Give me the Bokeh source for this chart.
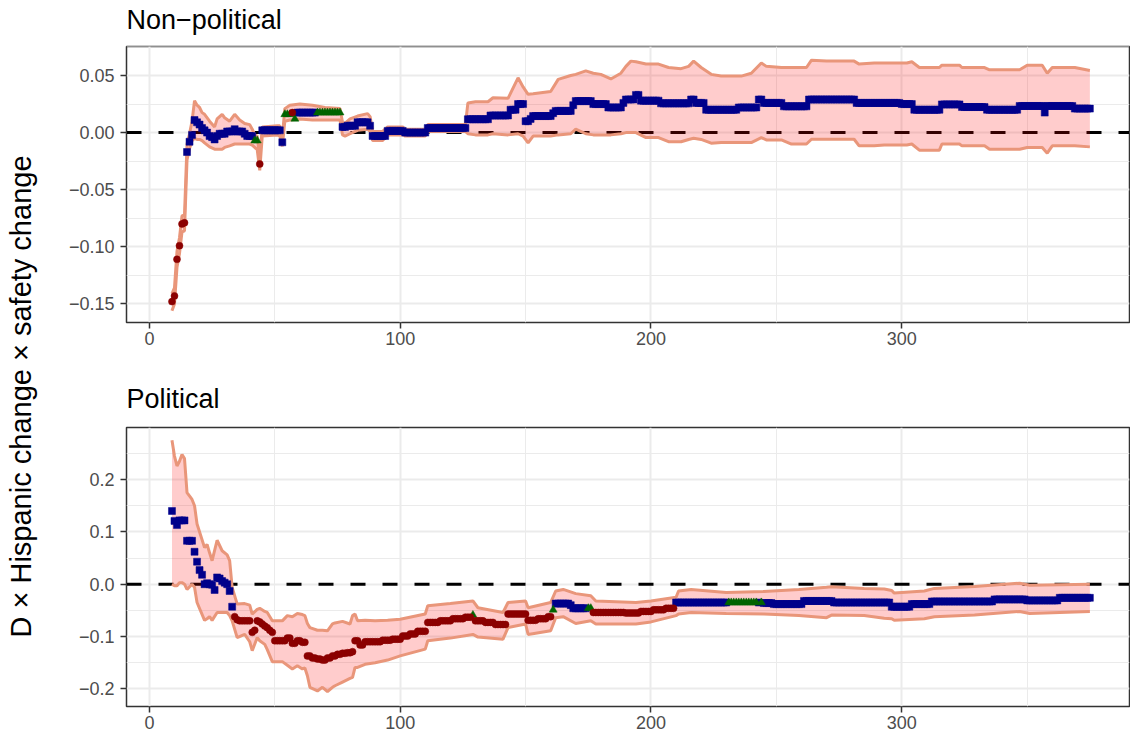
import math
from bokeh.plotting import figure
from bokeh.layouts import row, column
from bokeh.models import Range1d, FixedTicker, Span, CustomJSTickFormatter, Label
from bokeh.embed import file_html
from bokeh.resources import INLINE

FONT = "Liberation Sans"

# ---------------- Non-political panel ----------------
np_title = "Non\u2212political"
# runs of equal estimates: first x, last x, estimate, marker class
np_start = [9, 10, 11, 12, 13, 14, 15, 16, 17, 18, 19, 20, 21, 22, 23, 24, 25, 26, 27, 28,
            31, 34, 35, 38, 39, 42, 44, 45, 53, 54, 57, 58, 59, 67, 77, 79, 83, 88, 89, 95,
            102, 111, 127, 136, 144, 147, 150, 152, 153, 161, 162, 169, 170, 177, 183, 189, 190, 194, 196, 204,
            216, 218, 222, 235, 243, 245, 253, 263, 282, 300, 305, 316, 324, 334, 347, 357, 358, 369]
np_end = [9, 10, 11, 12, 13, 14, 15, 16, 17, 18, 19, 20, 21, 22, 23, 24, 25, 26, 27, 30,
          33, 34, 37, 38, 41, 43, 44, 52, 53, 56, 57, 58, 66, 76, 78, 82, 87, 88, 94, 101,
          110, 126, 135, 143, 146, 149, 151, 152, 160, 161, 168, 169, 176, 182, 188, 189, 193, 195, 203, 215,
          217, 221, 234, 242, 244, 252, 262, 281, 299, 304, 315, 323, 333, 346, 356, 357, 368, 375]
np_est = [-0.148, -0.143, -0.111, -0.099, -0.080, -0.079, -0.017, -0.008, -0.002, 0.011,
          0.009, 0.007, 0.004, 0.002, 0.000, -0.003, -0.004, -0.006, -0.003, -0.001,
          0.001, 0.003, 0.001, -0.001, -0.003, -0.007, -0.0275, 0.002, -0.0085, 0.016,
          0.0175, 0.012, 0.0175, 0.0175, 0.005, 0.006, 0.009, 0.006, -0.003, 0.0015,
          0.000, 0.004, 0.0117, 0.015, 0.020, 0.025, 0.010, 0.012, 0.0145, 0.017,
          0.019, 0.024, 0.0276, 0.025, 0.022, 0.026, 0.029, 0.033, 0.028, 0.0256,
          0.029, 0.026, 0.020, 0.022, 0.029, 0.026, 0.023, 0.029, 0.026, 0.025,
          0.020, 0.0247, 0.0224, 0.020, 0.0233, 0.0175, 0.0233, 0.021]
np_sig = ["r", "r", "r", "r", "r", "r", "b", "b", "b", "b", "b", "b", "b", "b", "b", "b", "b", "b", "b", "b",
          "b", "b", "b", "b", "b", "g", "r", "b", "b", "g", "r", "g", "b", "g", "b", "b", "b", "b", "b", "b",
          "b", "b", "b", "b", "b", "b", "b", "b", "b", "b", "b", "b", "b", "b", "b", "b", "b", "b", "b", "b",
          "b", "b", "b", "b", "b", "b", "b", "b", "b", "b", "b", "b", "b", "b", "b", "b", "b", "b"]
np_ci_x = [9, 10, 11, 12, 13, 14, 15, 16, 17, 18, 19, 20, 21, 22, 24, 26, 27, 29, 30, 32,
           34, 36, 38, 40, 41, 42, 43, 44, 45, 51, 52, 53, 54, 56, 60, 65, 70, 76, 77, 78,
           80, 83, 87, 88, 89, 93, 95, 101, 102, 110, 111, 126, 127, 130, 135, 137, 143, 147, 149, 151,
           153, 160, 163, 168, 170, 174, 177, 180, 184, 188, 190, 192, 194, 198, 203, 207, 212, 215, 217, 220,
           224, 228, 236, 240, 244, 246, 252, 256, 262, 264, 270, 281, 283, 289, 293, 302, 304, 307, 315, 316,
           323, 324, 333, 335, 347, 350, 356, 358, 360, 369, 375]
np_ci_lo = [-0.156, -0.150, -0.118, -0.106, -0.087, -0.086, -0.024, -0.014, -0.007, -0.005,
            -0.006, -0.006, -0.007, -0.009, -0.0125, -0.0145, -0.0145, -0.0145, -0.013, -0.0116,
            -0.010, -0.010, -0.010, -0.010, -0.011, -0.013, -0.015, -0.033, -0.003, -0.002,
            -0.003, -0.012, 0.010, 0.011, 0.012, 0.011, 0.011, 0.011, -0.002, -0.003,
            -0.001, 0.002, 0.003, 0.001, -0.007, -0.007, -0.002, -0.002, -0.003, -0.003,
            0.001, 0.001, -0.001, -0.002, -0.002, -0.001, -0.002, -0.001, -0.003, -0.009,
            -0.003, -0.003, -0.002, -0.001, 0.003, -0.001, -0.002, -0.002, -0.002, -0.001,
            0.000, 0.000, 0.000, -0.0044, -0.0044, -0.008, -0.008, -0.006, -0.005, -0.006,
            -0.0093, -0.0087, -0.0087, -0.0087, -0.0044, -0.0064, -0.0064, -0.010, -0.010, -0.0058,
            -0.0058, -0.0058, -0.0116, -0.0116, -0.0108, -0.0108, -0.010, -0.0154, -0.0154, -0.010,
            -0.010, -0.0116, -0.0116, -0.0146, -0.0146, -0.013, -0.013, -0.018, -0.0116, -0.0116,
            -0.0125]
np_ci_hi = [-0.141, -0.136, -0.104, -0.092, -0.073, -0.072, -0.010, -0.001, 0.010, 0.028,
            0.024, 0.022, 0.0175, 0.016, 0.010, 0.005, 0.012, 0.016, 0.013, 0.010,
            0.016, 0.011, 0.008, 0.007, 0.003, -0.002, -0.003, -0.023, 0.005, 0.006,
            0.006, -0.004, 0.021, 0.024, 0.025, 0.024, 0.022, 0.021, 0.009, 0.008,
            0.012, 0.0145, 0.0166, 0.014, 0.001, 0.001, 0.005, 0.005, 0.003, 0.003,
            0.007, 0.007, 0.026, 0.027, 0.027, 0.0305, 0.030, 0.048, 0.040, 0.0335,
            0.034, 0.036, 0.0466, 0.050, 0.051, 0.054, 0.052, 0.051, 0.047, 0.052,
            0.058, 0.0626, 0.062, 0.060, 0.060, 0.057, 0.056, 0.058, 0.0626, 0.057,
            0.051, 0.0495, 0.0495, 0.052, 0.061, 0.058, 0.057, 0.057, 0.057, 0.0634,
            0.0626, 0.0626, 0.060, 0.061, 0.061, 0.061, 0.062, 0.057, 0.057, 0.059,
            0.059, 0.057, 0.057, 0.055, 0.055, 0.059, 0.059, 0.052, 0.057, 0.057,
            0.0544]
np_yticks = [-0.15, -0.10, -0.05, 0.00, 0.05]

# ---------------- Political panel ----------------
pol_title = "Political"
pol_start = [9, 10, 11, 12, 15, 18, 19, 20, 21, 22, 23, 24, 25, 26, 27, 28, 29, 30, 31, 32,
             33, 34, 35, 36, 41, 42, 43, 44, 45, 46, 47, 48, 49, 50, 55, 57, 59, 61, 63, 65,
             67, 69, 71, 73, 75, 77, 79, 81, 82, 84, 86, 93, 97, 101, 104, 107, 111, 116, 121, 126,
             129, 130, 134, 138, 143, 151, 155, 159, 161, 162, 168, 169, 175, 177, 190, 196, 201, 206, 210, 231,
             243, 244, 245, 249, 261, 273, 296, 304, 312, 337, 350, 363]
pol_end = [9, 10, 11, 14, 17, 18, 19, 20, 21, 22, 23, 24, 25, 26, 27, 28, 29, 30, 31, 32,
           33, 34, 35, 40, 41, 42, 43, 44, 45, 46, 47, 48, 49, 54, 56, 58, 60, 62, 64, 66,
           68, 70, 72, 74, 76, 78, 80, 81, 83, 85, 92, 96, 100, 103, 106, 110, 115, 120, 125, 128,
           129, 133, 137, 142, 150, 154, 158, 160, 161, 167, 168, 174, 176, 189, 195, 200, 205, 209, 230, 242,
           243, 244, 248, 260, 272, 295, 303, 311, 336, 349, 362, 375]
pol_est = [0.140, 0.121, 0.113, 0.122, 0.083, 0.062, 0.043, 0.027, 0.018, 0.000,
           0.002, 0.000, -0.001, -0.011, 0.013, 0.011, 0.006, 0.003, 0.000, -0.013,
           -0.043, -0.062, -0.068, -0.070, -0.092, -0.088, -0.070, -0.072, -0.076, -0.080,
           -0.083, -0.088, -0.092, -0.108, -0.103, -0.113, -0.108, -0.111, -0.137, -0.141,
           -0.143, -0.145, -0.141, -0.137, -0.134, -0.132, -0.131, -0.129, -0.108, -0.116,
           -0.110, -0.107, -0.105, -0.099, -0.095, -0.090, -0.073, -0.070, -0.066, -0.063,
           -0.059, -0.070, -0.073, -0.077, -0.057, -0.069, -0.066, -0.062, -0.049, -0.037,
           -0.040, -0.046, -0.046, -0.054, -0.055, -0.052, -0.049, -0.046, -0.035, -0.035,
           -0.035, -0.035, -0.036, -0.038, -0.032, -0.035, -0.043, -0.038, -0.033, -0.029,
           -0.031, -0.026]
pol_sig = ["b", "b", "b", "b", "b", "b", "b", "b", "b", "b", "b", "b", "b", "b", "b", "b", "b", "b", "b", "b",
           "b", "r", "r", "r", "r", "r", "r", "r", "r", "r", "r", "r", "r", "r", "r", "r", "r", "r", "r", "r",
           "r", "r", "r", "r", "r", "r", "r", "r", "r", "r", "r", "r", "r", "r", "r", "r", "r", "r", "r", "r",
           "g", "r", "r", "r", "r", "r", "r", "r", "g", "b", "b", "b", "g", "r", "r", "r", "r", "r", "b", "g",
           "b", "g", "b", "b", "b", "b", "b", "b", "b", "b", "b", "b"]
pol_ci_x = [9, 10, 11, 12, 13, 14, 15, 17, 18, 19, 22, 23, 24, 25, 27, 29, 31, 32, 33, 35,
            38, 40, 41, 43, 44, 46, 47, 49, 53, 55, 57, 59, 61, 62, 63, 64, 67, 69, 71, 73,
            74, 77, 80, 81, 82, 83, 86, 90, 95, 100, 110, 111, 120, 129, 131, 141, 143, 150, 151, 160,
            162, 165, 170, 176, 178, 194, 200, 210, 211, 216, 230, 245, 259, 270, 272, 285, 293, 296, 297, 309,
            313, 329, 347, 351, 363, 375]
pol_ci_lo = [0.000, -0.003, -0.003, 0.003, 0.003, 0.000, -0.010, 0.000, -0.006, -0.035,
             -0.069, -0.066, -0.062, -0.069, -0.054, -0.054, -0.054, -0.060, -0.070, -0.102,
             -0.096, -0.110, -0.127, -0.102, -0.108, -0.115, -0.125, -0.148, -0.148, -0.155,
             -0.162, -0.156, -0.162, -0.160, -0.175, -0.197, -0.204, -0.197, -0.205, -0.197,
             -0.194, -0.187, -0.180, -0.178, -0.159, -0.159, -0.153, -0.150, -0.145, -0.137,
             -0.124, -0.108, -0.103, -0.096, -0.101, -0.105, -0.083, -0.076, -0.096, -0.089,
             -0.064, -0.062, -0.075, -0.070, -0.076, -0.076, -0.072, -0.060, -0.057, -0.054,
             -0.056, -0.057, -0.060, -0.064, -0.059, -0.060, -0.065, -0.066, -0.069, -0.066,
             -0.062, -0.059, -0.052, -0.056, -0.054, -0.052]
pol_ci_hi = [0.275, 0.245, 0.226, 0.235, 0.248, 0.240, 0.175, 0.162, 0.150, 0.115,
             0.070, 0.076, 0.060, 0.045, 0.084, 0.064, 0.056, 0.045, -0.006, -0.038,
             -0.037, -0.040, -0.057, -0.048, -0.046, -0.052, -0.054, -0.070, -0.070, -0.060,
             -0.062, -0.056, -0.058, -0.060, -0.075, -0.083, -0.088, -0.088, -0.089, -0.076,
             -0.074, -0.071, -0.076, -0.060, -0.057, -0.070, -0.069, -0.070, -0.069, -0.067,
             -0.057, -0.041, -0.037, -0.032, -0.045, -0.054, -0.035, -0.032, -0.045, -0.035,
             -0.013, -0.010, -0.018, -0.022, -0.032, -0.035, -0.032, -0.025, -0.013, -0.010,
             -0.016, -0.014, -0.010, -0.006, -0.005, -0.008, -0.009, -0.012, -0.017, -0.013,
             -0.008, -0.0045, 0.002, -0.002, -0.001, 0.000]
pol_yticks = [-0.2, -0.1, 0.0, 0.1, 0.2]

x_ticks = [0, 100, 200, 300]
x_minor = [50, 150, 250, 350]
y_label = "D \u00d7 Hispanic change \u00d7 safety change"

MARKERS = {"b": ("square", "#00008B", 7), "g": ("triangle", "#006400", 8), "r": ("circle", "#8B0000", 7)}
X_LO, X_HI = -9.13, 390.8
FRAME_LEFT, FRAME_RIGHT = 86, 1


def text_fig(width, height, text, tx, ty, size, angle=0.0, align="left", baseline="alphabetic",
             bl=0, br=0):
    fw = width - bl - br
    f = figure(width=width, height=height, x_range=Range1d(0, fw), y_range=Range1d(0, height),
               x_axis_type=None, y_axis_type=None, output_backend="svg", toolbar_location=None,
               min_border=0, min_border_left=bl, min_border_right=br)
    f.outline_line_color = None
    f.xgrid.visible = False
    f.ygrid.visible = False
    f.background_fill_color = "white"
    f.border_fill_color = "white"
    f.add_layout(Label(x=tx, y=ty, text=text, angle=angle, text_align=align,
                       text_baseline=baseline, text_font=FONT, text_font_size=size,
                       text_color="black"))
    return f


def make_panel(starts, ends, ests, sigs, cx, clo, chi, yr, yticks, dec, height, bbot):
    assert len(starts) == len(ends) == len(ests) == len(sigs)
    assert len(cx) == len(clo) == len(chi)
    p = figure(width=1090, height=height, x_range=Range1d(X_LO, X_HI), y_range=Range1d(*yr),
               output_backend="svg", toolbar_location=None,
               min_border_left=FRAME_LEFT, min_border_right=FRAME_RIGHT, min_border_top=1,
               min_border_bottom=bbot)
    p.background_fill_color = "white"
    p.border_fill_color = "white"
    p.outline_line_color = "#333333"
    p.outline_line_width = 1.5

    ystep = yticks[1] - yticks[0]
    yminor = [t + ystep / 2 for t in yticks] + [yticks[0] - ystep / 2]
    p.xaxis.ticker = FixedTicker(ticks=x_ticks, minor_ticks=x_minor)
    p.yaxis.ticker = FixedTicker(ticks=yticks, minor_ticks=yminor)
    p.yaxis.formatter = CustomJSTickFormatter(
        code="return tick.toFixed(%d).replace('-', '\\u2212');" % dec)
    for ax in (p.xaxis, p.yaxis):
        ax.axis_line_color = None
        ax.major_tick_line_color = "#333333"
        ax.major_tick_line_width = 1.5
        ax.major_tick_in = 0
        ax.major_tick_out = 6
        ax.minor_tick_line_color = None
        ax.major_label_text_font = FONT
        ax.major_label_text_font_size = "18px"
        ax.major_label_text_color = "#4D4D4D"
    p.xaxis.major_label_standoff = 3
    p.yaxis.major_label_standoff = 6
    for g in (p.xgrid, p.ygrid):
        g.grid_line_color = "#EBEBEB"
        g.grid_line_width = 2
        g.minor_grid_line_color = "#EBEBEB"
        g.minor_grid_line_width = 1

    p.add_layout(Span(location=0, dimension="width", line_color="black", line_width=3,
                      line_dash="15 17", level="underlay"))

    p.varea(x=cx, y1=clo, y2=chi, fill_color="red", fill_alpha=0.2)
    p.line(cx, clo, line_color="#E9967A", line_width=3)
    p.line(cx, chi, line_color="#E9967A", line_width=3)

    pts = {"b": ([], []), "g": ([], []), "r": ([], [])}
    for a, b, v, s in zip(starts, ends, ests, sigs):
        for x in range(a, b + 1):
            pts[s][0].append(x)
            pts[s][1].append(v)
    for k in ("b", "g", "r"):
        m, col, sz = MARKERS[k]
        p.scatter(pts[k][0], pts[k][1], marker=m, size=sz, fill_color=col, line_color=col, line_width=0.5)
    return p


t1 = text_fig(1090, 45, np_title, 0, 26, "27px", bl=FRAME_LEFT, br=FRAME_RIGHT)
p1 = make_panel(np_start, np_end, np_est, np_sig, np_ci_x, np_ci_lo, np_ci_hi,
                (-0.1663, 0.0754), np_yticks, 2, 331, 54)
t2 = text_fig(1090, 50, pol_title, 0, 28, "27px", bl=FRAME_LEFT, br=FRAME_RIGHT)
p2 = make_panel(pol_start, pol_end, pol_est, pol_sig, pol_ci_x, pol_ci_lo, pol_ci_hi,
                (-0.2337, 0.2995), pol_yticks, 1, 310, 30)

lab = text_fig(40, 736, y_label, 20, 340, "29px", angle=math.pi / 2, align="center", baseline="middle")

layout = row(lab, column(t1, p1, t2, p2))
open("out.html", "w").write(file_html(layout, INLINE))
